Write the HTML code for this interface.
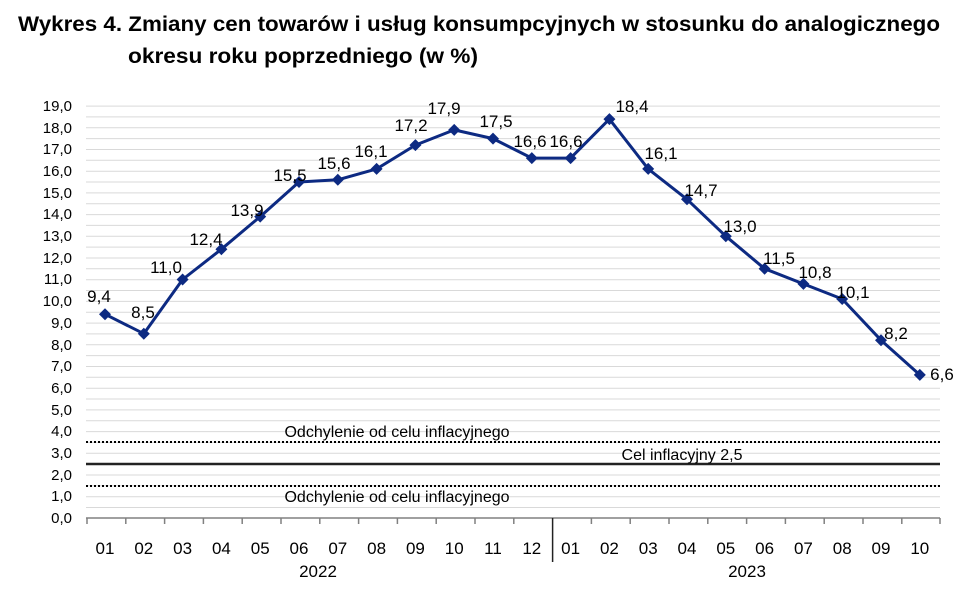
<!DOCTYPE html>
<html><head><meta charset="utf-8"><style>
html,body{margin:0;padding:0;background:#fff;}
svg{display:block;font-family:"Liberation Sans",sans-serif;}
</style></head><body>
<svg width="979" height="589" viewBox="0 0 979 589" xmlns="http://www.w3.org/2000/svg">
<text x="18" y="31" font-size="21" font-weight="bold" textLength="922" lengthAdjust="spacingAndGlyphs">Wykres 4. Zmiany cen towarów i usług konsumpcyjnych w stosunku do analogicznego</text>
<text x="128" y="63" font-size="21" font-weight="bold" textLength="350" lengthAdjust="spacingAndGlyphs">okresu roku poprzedniego (w %)</text>
<g stroke="#d9d9d9" stroke-width="1">
<line x1="86" x2="940" y1="106.1" y2="106.1"/><line x1="86" x2="940" y1="116.9" y2="116.9"/><line x1="86" x2="940" y1="127.8" y2="127.8"/><line x1="86" x2="940" y1="138.6" y2="138.6"/><line x1="86" x2="940" y1="149.5" y2="149.5"/><line x1="86" x2="940" y1="160.3" y2="160.3"/><line x1="86" x2="940" y1="171.2" y2="171.2"/><line x1="86" x2="940" y1="182" y2="182"/><line x1="86" x2="940" y1="192.9" y2="192.9"/><line x1="86" x2="940" y1="203.7" y2="203.7"/><line x1="86" x2="940" y1="214.6" y2="214.6"/><line x1="86" x2="940" y1="225.4" y2="225.4"/><line x1="86" x2="940" y1="236.3" y2="236.3"/><line x1="86" x2="940" y1="247.1" y2="247.1"/><line x1="86" x2="940" y1="258" y2="258"/><line x1="86" x2="940" y1="268.8" y2="268.8"/><line x1="86" x2="940" y1="279.7" y2="279.7"/><line x1="86" x2="940" y1="290.5" y2="290.5"/><line x1="86" x2="940" y1="301.4" y2="301.4"/><line x1="86" x2="940" y1="312.2" y2="312.2"/><line x1="86" x2="940" y1="323.1" y2="323.1"/><line x1="86" x2="940" y1="333.9" y2="333.9"/><line x1="86" x2="940" y1="344.8" y2="344.8"/><line x1="86" x2="940" y1="355.6" y2="355.6"/><line x1="86" x2="940" y1="366.5" y2="366.5"/><line x1="86" x2="940" y1="377.3" y2="377.3"/><line x1="86" x2="940" y1="388.2" y2="388.2"/><line x1="86" x2="940" y1="399" y2="399"/><line x1="86" x2="940" y1="409.9" y2="409.9"/><line x1="86" x2="940" y1="420.7" y2="420.7"/><line x1="86" x2="940" y1="431.6" y2="431.6"/><line x1="86" x2="940" y1="442.4" y2="442.4"/><line x1="86" x2="940" y1="453.3" y2="453.3"/><line x1="86" x2="940" y1="464.1" y2="464.1"/><line x1="86" x2="940" y1="475" y2="475"/><line x1="86" x2="940" y1="485.8" y2="485.8"/><line x1="86" x2="940" y1="496.7" y2="496.7"/><line x1="86" x2="940" y1="507.5" y2="507.5"/>
</g>
<line x1="86" x2="940" y1="442" y2="442" stroke="#000" stroke-width="2" stroke-dasharray="2,2"/>
<line x1="86" x2="940" y1="486" y2="486" stroke="#000" stroke-width="2" stroke-dasharray="2,2"/>
<line x1="86" x2="940" y1="464" y2="464" stroke="#222" stroke-width="2.5"/>
<g font-size="16" fill="#000">
<text x="397" y="437" text-anchor="middle">Odchylenie od celu inflacyjnego</text>
<text x="397" y="502" text-anchor="middle">Odchylenie od celu inflacyjnego</text>
<text x="682" y="460" text-anchor="middle">Cel inflacyjny 2,5</text>
</g>
<g stroke="#808080" stroke-width="1.5">
<line x1="86" x2="940" y1="518" y2="518"/>
<line x1="87" x2="87" y1="518" y2="524"/><line x1="125.8" x2="125.8" y1="518" y2="524"/><line x1="164.6" x2="164.6" y1="518" y2="524"/><line x1="203.4" x2="203.4" y1="518" y2="524"/><line x1="242.2" x2="242.2" y1="518" y2="524"/><line x1="281" x2="281" y1="518" y2="524"/><line x1="319.8" x2="319.8" y1="518" y2="524"/><line x1="358.6" x2="358.6" y1="518" y2="524"/><line x1="397.4" x2="397.4" y1="518" y2="524"/><line x1="436.2" x2="436.2" y1="518" y2="524"/><line x1="475" x2="475" y1="518" y2="524"/><line x1="513.8" x2="513.8" y1="518" y2="524"/><line x1="552.6" x2="552.6" y1="518" y2="562" stroke="#222"/><line x1="591.4" x2="591.4" y1="518" y2="524"/><line x1="630.2" x2="630.2" y1="518" y2="524"/><line x1="669" x2="669" y1="518" y2="524"/><line x1="707.8" x2="707.8" y1="518" y2="524"/><line x1="746.6" x2="746.6" y1="518" y2="524"/><line x1="785.4" x2="785.4" y1="518" y2="524"/><line x1="824.2" x2="824.2" y1="518" y2="524"/><line x1="863" x2="863" y1="518" y2="524"/><line x1="901.8" x2="901.8" y1="518" y2="524"/><line x1="940" x2="940" y1="518" y2="524"/>
</g>
<g font-size="15" text-anchor="end" fill="#000">
<text x="72" y="523">0,0</text><text x="72" y="501">1,0</text><text x="72" y="480">2,0</text><text x="72" y="458">3,0</text><text x="72" y="436">4,0</text><text x="72" y="415">5,0</text><text x="72" y="393">6,0</text><text x="72" y="371">7,0</text><text x="72" y="350">8,0</text><text x="72" y="328">9,0</text><text x="72" y="306">10,0</text><text x="72" y="284">11,0</text><text x="72" y="263">12,0</text><text x="72" y="241">13,0</text><text x="72" y="219">14,0</text><text x="72" y="198">15,0</text><text x="72" y="176">16,0</text><text x="72" y="154">17,0</text><text x="72" y="133">18,0</text><text x="72" y="111">19,0</text>
</g>
<g font-size="17" text-anchor="middle" fill="#000">
<text x="105" y="554">01</text><text x="143.8" y="554">02</text><text x="182.6" y="554">03</text><text x="221.4" y="554">04</text><text x="260.2" y="554">05</text><text x="299" y="554">06</text><text x="337.8" y="554">07</text><text x="376.6" y="554">08</text><text x="415.4" y="554">09</text><text x="454.2" y="554">10</text><text x="493" y="554">11</text><text x="531.8" y="554">12</text><text x="570.6" y="554">01</text><text x="609.4" y="554">02</text><text x="648.2" y="554">03</text><text x="687" y="554">04</text><text x="725.8" y="554">05</text><text x="764.6" y="554">06</text><text x="803.4" y="554">07</text><text x="842.2" y="554">08</text><text x="881" y="554">09</text><text x="919.8" y="554">10</text>
<text x="318" y="577">2022</text><text x="747" y="577">2023</text>
</g>
<polyline fill="none" stroke="#0d2a82" stroke-width="3" stroke-linejoin="round" points="105,314.2 143.8,333.7 182.6,279.5 221.4,249.2 260.2,216.6 299,182 337.8,179.8 376.6,168.9 415.4,145.1 454.2,129.9 493,138.6 531.8,158.1 570.6,158.1 609.4,119.1 648.2,168.9 687,199.3 725.8,236.2 764.6,268.7 803.4,283.9 842.2,299 881,340.2 919.8,374.9"/>
<g fill="#0d2a82">
<path d="M105,308.2l6,6l-6,6l-6,-6z"/><path d="M143.8,327.7l6,6l-6,6l-6,-6z"/><path d="M182.6,273.5l6,6l-6,6l-6,-6z"/><path d="M221.4,243.2l6,6l-6,6l-6,-6z"/><path d="M260.2,210.6l6,6l-6,6l-6,-6z"/><path d="M299,176l6,6l-6,6l-6,-6z"/><path d="M337.8,173.8l6,6l-6,6l-6,-6z"/><path d="M376.6,162.9l6,6l-6,6l-6,-6z"/><path d="M415.4,139.1l6,6l-6,6l-6,-6z"/><path d="M454.2,123.9l6,6l-6,6l-6,-6z"/><path d="M493,132.6l6,6l-6,6l-6,-6z"/><path d="M531.8,152.1l6,6l-6,6l-6,-6z"/><path d="M570.6,152.1l6,6l-6,6l-6,-6z"/><path d="M609.4,113.1l6,6l-6,6l-6,-6z"/><path d="M648.2,162.9l6,6l-6,6l-6,-6z"/><path d="M687,193.3l6,6l-6,6l-6,-6z"/><path d="M725.8,230.2l6,6l-6,6l-6,-6z"/><path d="M764.6,262.7l6,6l-6,6l-6,-6z"/><path d="M803.4,277.9l6,6l-6,6l-6,-6z"/><path d="M842.2,293l6,6l-6,6l-6,-6z"/><path d="M881,334.2l6,6l-6,6l-6,-6z"/><path d="M919.8,368.9l6,6l-6,6l-6,-6z"/>
</g>
<g font-size="17" text-anchor="middle" fill="#000">
<text x="99" y="302">9,4</text><text x="143" y="318">8,5</text><text x="166" y="273">11,0</text><text x="206" y="245">12,4</text><text x="247" y="216">13,9</text><text x="290" y="181">15,5</text><text x="334" y="169">15,6</text><text x="371" y="157">16,1</text><text x="411" y="131">17,2</text><text x="444" y="114">17,9</text><text x="496" y="127">17,5</text><text x="530" y="147">16,6</text><text x="566" y="147">16,6</text><text x="632" y="112">18,4</text><text x="661" y="159">16,1</text><text x="701" y="196">14,7</text><text x="740" y="232">13,0</text><text x="779" y="264">11,5</text><text x="815" y="278">10,8</text><text x="853" y="298">10,1</text><text x="896" y="339">8,2</text><text x="942" y="380">6,6</text>
</g>
</svg>
</body></html>
